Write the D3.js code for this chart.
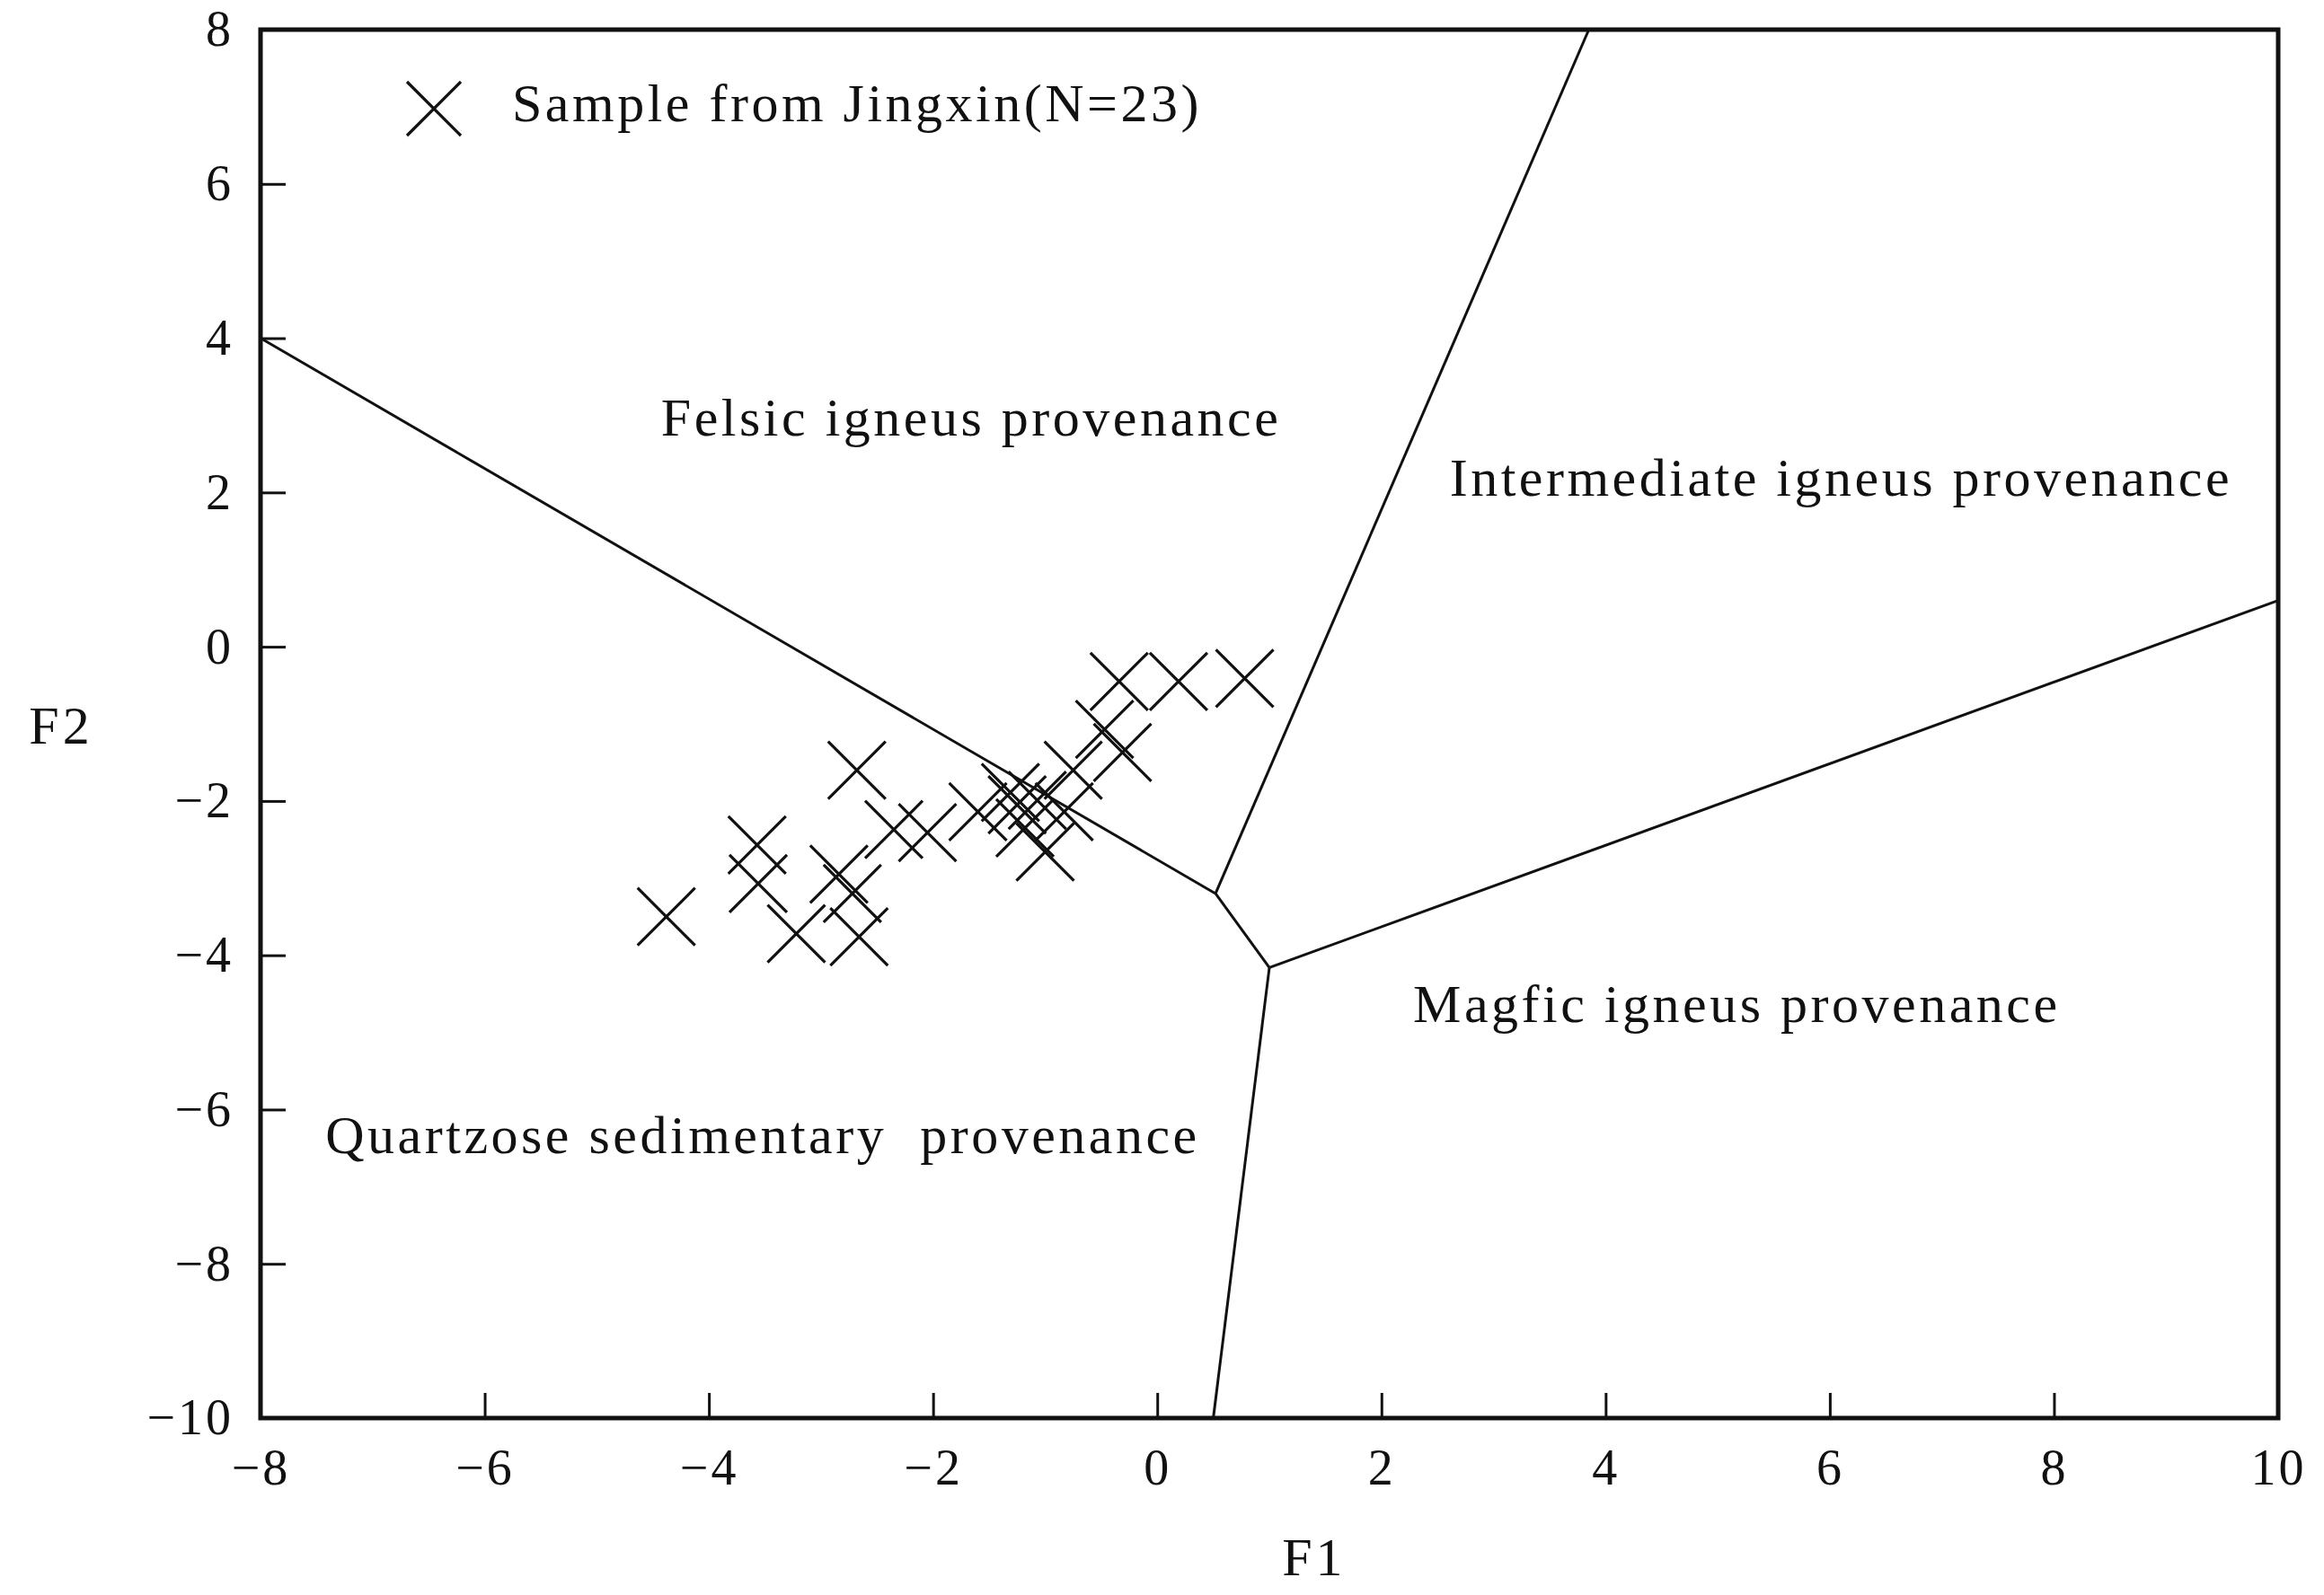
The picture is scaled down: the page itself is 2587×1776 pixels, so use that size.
<!DOCTYPE html>
<html><head><meta charset="utf-8">
<script src="https://cdn.jsdelivr.net/npm/d3@7"></script>
<style>body{margin:0;background:#fff}</style>
</head><body><div id="chart"></div>
<script>
const xTicks = [-8, -6, -4, -2, 0, 2, 4, 6, 8, 10];
const yTicks = [-10, -8, -6, -4, -2, 0, 2, 4, 6, 8];
const f1 = [-4.38, -3.57, -3.56, -3.22, -2.68, -2.84, -2.72, -2.66, -2.35, -2.05, -1.60, -1.31, -1.07, -1.00, -0.83, -0.75, -0.47, -0.31, -0.34, 0.19, 0.78, -1.18, -1.25];
const f2 = [-3.50, -2.57, -3.07, -3.72, -1.60, -2.95, -3.20, -3.76, -2.37, -2.41, -2.14, -1.89, -1.99, -2.66, -2.14, -1.60, -1.07, -1.37, -0.45, -0.45, -0.41, -2.35, -2.05];
const boundaries = [
  [[-8, 4], [0.52, -3.2]],
  [[0.52, -3.2], [3.85, 8]],
  [[0.52, -3.2], [1.0, -4.16]],
  [[1.0, -4.16], [0.5, -10]],
  [[1.0, -4.16], [10, 0.6]]
];
const fieldNames = ['Felsic igneus provenance', 'Intermediate igneus provenance', 'Magfic igneus provenance', 'Quartzose sedimentary  provenance'];
const fieldPos = [[-1.66, 2.9], [6.1, 2.12], [5.17, -4.7], [-3.52, -6.4]];

const W = 2587, H = 1776;
const margin = { top: 33, right: 51, bottom: 197, left: 290 };
const width = W - margin.left - margin.right;
const height = H - margin.top - margin.bottom;
const font = '"Liberation Serif", serif';

const svg = d3.select('#chart').append('svg').attr('width', W).attr('height', H)
  .append('g').attr('transform', `translate(${margin.left}, ${margin.top})`);

const x = d3.scaleLinear().domain([-8, 10]).range([0, width]);
const y = d3.scaleLinear().domain([-10, 8]).range([height, 0]);
const fmt = d => (d < 0 ? '\u2212' + Math.abs(d) : '' + d);

const xAxis = d3.axisBottom(x).tickValues(xTicks).tickSize(-28).tickPadding(24).tickFormat(fmt);
const yAxis = d3.axisLeft(y).tickValues(yTicks).tickSize(-28).tickPadding(30).tickFormat(fmt);
const gx = svg.append('g').attr('transform', `translate(0, ${height})`).call(xAxis);
const gy = svg.append('g').call(yAxis);
[gx, gy].forEach(g => {
  g.select('.domain').remove();
  g.selectAll('line').attr('stroke', '#111').attr('stroke-width', 3);
  g.selectAll('text').attr('font-family', font).attr('font-size', 56).attr('fill', '#111')
    .attr('letter-spacing', 3);
});
gx.selectAll('text').attr('dy', '0.9em');

svg.append('rect').attr('width', width).attr('height', height)
  .attr('fill', 'none').attr('stroke', '#111').attr('stroke-width', 5);

boundaries.forEach(b => {
  svg.append('line').attr('x1', x(b[0][0])).attr('y1', y(b[0][1]))
    .attr('x2', x(b[1][0])).attr('y2', y(b[1][1]))
    .attr('stroke', '#111').attr('stroke-width', 3);
});

fieldNames.forEach((t, i) => {
  svg.append('text').attr('x', x(fieldPos[i][0])).attr('y', y(fieldPos[i][1]))
    .attr('text-anchor', 'middle').attr('dominant-baseline', 'middle')
    .attr('font-family', font).attr('font-size', 60).attr('letter-spacing', 3.5).attr('fill', '#111')
    .style('white-space', 'pre').text(t);
});

const cross = (g, cx, cy, r) => {
  g.append('path').attr('d', `M${cx - r},${cy - r}L${cx + r},${cy + r}M${cx - r},${cy + r}L${cx + r},${cy - r}`)
    .attr('stroke', '#111').attr('stroke-width', 3.2).attr('fill', 'none');
};
f1.forEach((v, i) => cross(svg, x(v), y(f2[i]), 32));

// legend
cross(svg, 193, 88, 30);
svg.append('text').attr('x', 280).attr('y', 88).attr('dominant-baseline', 'middle')
  .attr('font-family', font).attr('font-size', 60).attr('letter-spacing', 3.5).attr('fill', '#111')
  .text('Sample from Jingxin(N=23)');

svg.append('text').attr('x', x(1.4)).attr('y', height + 175).attr('text-anchor', 'middle')
  .attr('font-family', font).attr('font-size', 60).attr('letter-spacing', 4).attr('fill', '#111').text('F1');
svg.append('text').attr('x', -222).attr('y', y(-1.1)).attr('text-anchor', 'middle')
  .attr('dominant-baseline', 'middle')
  .attr('font-family', font).attr('font-size', 60).attr('letter-spacing', 4).attr('fill', '#111').text('F2');
</script></body></html>
